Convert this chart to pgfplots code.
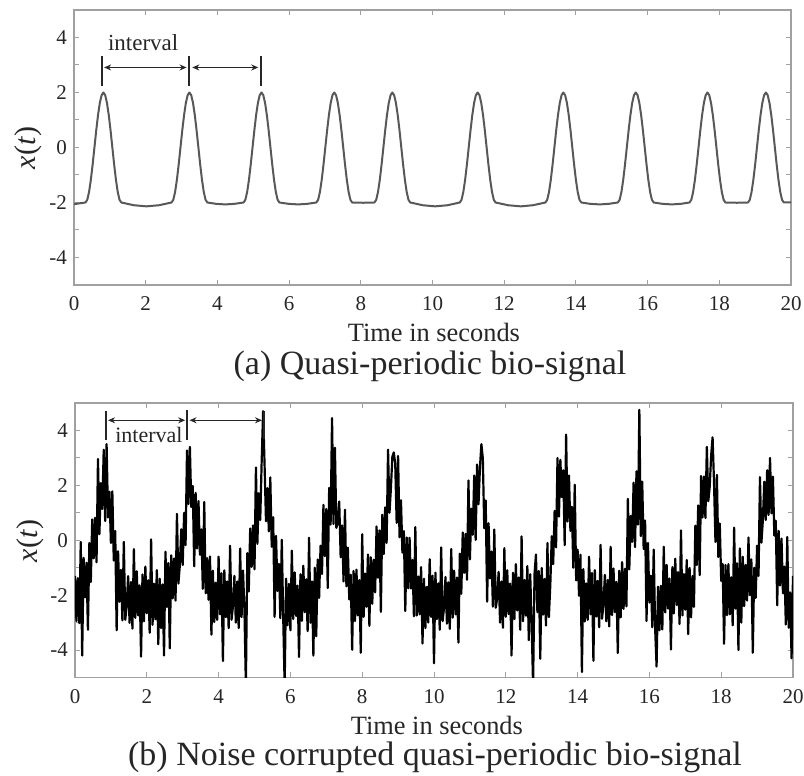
\documentclass[border=0pt]{standalone}
\usepackage{fontspec}
\setmainfont{Liberation Serif}
\usepackage{pgfplots}
\pgfplotsset{compat=1.18}
\usepackage{pgfplotstable}
\usetikzlibrary{arrows.meta}
\definecolor{framegray}{HTML}{A0A0A0}
\definecolor{sig}{HTML}{585858}
\definecolor{txt}{HTML}{262626}

\pgfplotstableread{
t y
0.00 -2.06
0.16 -2.03
0.32 -2.00
0.37 -1.902
0.42 -1.618
0.47 -1.176
0.52 -0.618
0.57 0
0.62 0.618
0.67 1.176
0.72 1.618
0.77 1.902
0.82 2
0.87 1.902
0.92 1.618
0.97 1.176
1.02 0.618
1.07 0
1.12 -0.618
1.17 -1.176
1.22 -1.618
1.27 -1.902
1.32 -2
1.67 -2.1
2.02 -2.14
2.37 -2.1
2.72 -2
2.77 -1.902
2.82 -1.618
2.87 -1.176
2.92 -0.618
2.97 0
3.02 0.618
3.07 1.176
3.12 1.618
3.17 1.902
3.22 2
3.27 1.902
3.32 1.618
3.37 1.176
3.42 0.618
3.47 0
3.52 -0.618
3.57 -1.176
3.62 -1.618
3.67 -1.902
3.72 -2
3.97 -2.05
4.22 -2.07
4.47 -2.05
4.73 -2
4.78 -1.902
4.83 -1.618
4.88 -1.176
4.93 -0.618
4.98 0
5.03 0.618
5.08 1.176
5.13 1.618
5.18 1.902
5.23 2
5.28 1.902
5.33 1.618
5.38 1.176
5.43 0.618
5.48 0
5.53 -0.618
5.58 -1.176
5.63 -1.618
5.68 -1.902
5.73 -2
5.99 -2.05
6.25 -2.07
6.50 -2.05
6.76 -2
6.81 -1.902
6.86 -1.618
6.91 -1.176
6.96 -0.618
7.01 0
7.06 0.618
7.11 1.176
7.16 1.618
7.21 1.902
7.26 2
7.31 1.902
7.36 1.618
7.41 1.176
7.46 0.618
7.51 0
7.56 -0.618
7.61 -1.176
7.66 -1.618
7.71 -1.902
7.76 -2
8.07 -2.01
8.38 -2
8.43 -1.902
8.48 -1.618
8.53 -1.176
8.58 -0.618
8.63 0
8.68 0.618
8.73 1.176
8.78 1.618
8.83 1.902
8.88 2
8.93 1.902
8.98 1.618
9.03 1.176
9.08 0.618
9.13 0
9.18 -0.618
9.23 -1.176
9.28 -1.618
9.33 -1.902
9.38 -2
9.73 -2.1
10.07 -2.14
10.42 -2.1
10.76 -2
10.81 -1.902
10.86 -1.618
10.91 -1.176
10.96 -0.618
11.01 0
11.06 0.618
11.11 1.176
11.16 1.618
11.21 1.902
11.26 2
11.31 1.902
11.36 1.618
11.41 1.176
11.46 0.618
11.51 0
11.56 -0.618
11.61 -1.176
11.66 -1.618
11.71 -1.902
11.76 -2
12.11 -2.1
12.46 -2.14
12.80 -2.1
13.15 -2
13.20 -1.902
13.25 -1.618
13.30 -1.176
13.35 -0.618
13.40 0
13.45 0.618
13.50 1.176
13.55 1.618
13.60 1.902
13.65 2
13.70 1.902
13.75 1.618
13.80 1.176
13.85 0.618
13.90 0
13.95 -0.618
14.00 -1.176
14.05 -1.618
14.10 -1.902
14.15 -2
14.40 -2.05
14.66 -2.07
14.91 -2.05
15.17 -2
15.22 -1.902
15.27 -1.618
15.32 -1.176
15.37 -0.618
15.42 0
15.47 0.618
15.52 1.176
15.57 1.618
15.62 1.902
15.67 2
15.72 1.902
15.77 1.618
15.82 1.176
15.87 0.618
15.92 0
15.97 -0.618
16.02 -1.176
16.07 -1.618
16.12 -1.902
16.17 -2
16.42 -2.05
16.67 -2.07
16.92 -2.05
17.17 -2
17.22 -1.902
17.27 -1.618
17.32 -1.176
17.37 -0.618
17.42 0
17.47 0.618
17.52 1.176
17.57 1.618
17.62 1.902
17.67 2
17.72 1.902
17.77 1.618
17.82 1.176
17.87 0.618
17.92 0
17.97 -0.618
18.02 -1.176
18.07 -1.618
18.12 -1.902
18.17 -2
18.49 -2.01
18.80 -2
18.85 -1.902
18.90 -1.618
18.95 -1.176
19.00 -0.618
19.05 0
19.10 0.618
19.15 1.176
19.20 1.618
19.25 1.902
19.30 2
19.35 1.902
19.40 1.618
19.45 1.176
19.50 0.618
19.55 0
19.60 -0.618
19.65 -1.176
19.70 -1.618
19.75 -1.902
19.80 -2
20.00 -2
}\clean

\pgfplotstableread{
t y
0.00 -1.30
0.04 -2.94
0.08 -1.38
0.12 -3.02
0.16 -0.06
0.20 -4.20
0.24 -0.64
0.28 -2.08
0.32 -0.82
0.36 -3.26
0.40 -0.10
0.44 -1.52
0.48 0.76
0.52 -0.66
0.56 0.82
0.60 -0.80
0.64 2.96
0.68 0.22
0.72 2.08
0.76 1.14
0.80 3.30
0.84 0.70
0.88 3.50
0.92 0.83
0.96 1.77
1.00 -0.10
1.04 1.78
1.08 -0.74
1.12 0.34
1.16 -3.28
1.20 -0.40
1.24 -2.24
1.28 -1.08
1.32 -2.92
1.36 -0.06
1.40 -2.90
1.44 -2.40
1.48 -1.31
1.52 -3.01
1.56 -1.52
1.60 -3.22
1.64 -0.32
1.68 -2.83
1.72 -1.13
1.76 -2.74
1.80 -1.64
1.84 -4.24
1.88 -1.25
1.92 -2.95
1.96 -0.96
2.00 -2.66
2.04 -1.46
2.08 -3.37
2.12 0.03
2.16 -3.08
2.20 -1.58
2.24 -2.88
2.28 -1.09
2.32 -3.79
2.36 -1.40
2.40 -3.20
2.44 -1.61
2.48 -4.20
2.52 -0.42
2.56 -2.43
2.60 -0.83
2.64 -3.94
2.68 -0.55
2.72 -2.12
2.76 -0.66
2.80 -2.20
2.84 0.96
2.88 -1.58
2.92 -0.92
2.96 0.40
3.00 -0.90
3.04 1.00
3.08 -0.18
3.12 3.27
3.16 1.32
3.20 3.40
3.24 1.21
3.28 1.98
3.32 -0.95
3.36 1.73
3.40 -0.30
3.44 1.43
3.48 -0.53
3.52 0.40
3.56 -1.77
3.60 1.39
3.64 -1.93
3.68 -0.65
3.72 -2.17
3.76 -0.59
3.80 -3.44
3.84 -1.11
3.88 -2.98
3.92 -1.55
3.96 -2.90
4.00 -0.60
4.04 -2.70
4.08 -1.20
4.12 -4.40
4.16 -1.10
4.20 -2.80
4.24 -1.50
4.28 -3.20
4.32 -0.20
4.36 -2.90
4.40 -2.40
4.44 -1.30
4.48 -3.00
4.52 -1.50
4.56 -3.20
4.60 -0.30
4.64 -2.80
4.68 -1.10
4.72 -2.55
4.76 -5.30
4.80 -0.47
4.84 -1.87
4.88 0.43
4.92 -0.97
4.96 0.54
5.00 -1.06
5.04 2.65
5.08 -0.13
5.12 1.71
5.16 0.74
5.20 2.88
5.24 4.70
5.28 2.78
5.32 0.69
5.36 1.90
5.40 0.32
5.44 2.29
5.48 -0.24
5.52 0.84
5.56 -2.79
5.60 0.16
5.64 -1.85
5.68 -0.86
5.72 -2.84
5.76 0.02
5.80 -2.82
5.84 -5.30
5.88 -1.40
5.92 -3.10
5.96 -1.59
6.00 -3.28
6.04 -0.38
6.08 -2.87
6.12 -1.17
6.16 -2.76
6.20 -1.65
6.24 -4.25
6.28 -1.24
6.32 -2.94
6.36 -0.93
6.40 -2.62
6.44 -1.42
6.48 -3.31
6.52 0.09
6.56 -3.01
6.60 -1.50
6.64 -4.20
6.68 -1.00
6.72 -3.50
6.76 -0.70
6.80 -2.10
6.84 -0.20
6.88 -1.23
6.92 1.29
6.96 -0.58
7.00 1.14
7.04 -1.74
7.08 1.91
7.12 0.57
7.16 4.45
7.20 0.59
7.24 3.37
7.28 0.45
7.32 0.65
7.36 1.41
7.40 -0.62
7.44 0.54
7.48 -1.50
7.52 1.11
7.56 -1.68
7.60 -0.27
7.64 -2.16
7.68 -1.26
7.72 -3.99
7.76 -1.12
7.80 -2.94
7.84 -1.07
7.88 -2.74
7.92 -1.45
7.96 -4.10
8.00 0.22
8.04 -2.79
8.08 -1.21
8.12 -2.42
8.16 -0.52
8.20 -3.12
8.24 -0.62
8.28 -2.31
8.32 -0.71
8.36 -1.90
8.40 0.50
8.44 -1.37
8.48 0.36
8.52 -2.61
8.56 0.93
8.60 -0.50
8.64 1.20
8.68 -0.10
8.72 3.30
8.76 1.00
8.80 1.90
8.84 3.04
8.88 3.20
8.92 2.79
8.96 0.63
9.00 3.07
9.04 0.11
9.08 1.46
9.12 -0.45
9.16 0.33
9.20 -2.58
9.24 0.10
9.28 -1.75
9.32 0.09
9.36 -1.76
9.40 -0.72
9.44 -2.77
9.48 0.48
9.52 -2.74
9.56 -1.32
9.60 -2.70
9.64 -0.98
9.68 -3.76
9.72 -1.40
9.76 -3.20
9.80 -1.70
9.84 -3.00
9.88 -0.69
9.92 -2.79
9.96 -1.29
10.00 -4.48
10.04 -1.18
10.08 -2.87
10.12 -1.57
10.16 -3.26
10.20 -0.26
10.24 -2.95
10.28 -2.45
10.32 -1.34
10.36 -3.04
10.40 -1.53
10.44 -3.23
10.48 -0.32
10.52 -2.82
10.56 -1.11
10.60 -2.70
10.64 -1.36
10.68 -3.73
10.72 -0.49
10.76 -1.95
10.80 0.28
10.84 -1.19
10.88 0.23
10.92 -1.44
10.96 2.18
11.00 -0.70
11.04 1.15
11.08 0.20
11.12 2.36
11.16 0.01
11.20 2.76
11.24 1.31
11.28 2.65
11.32 3.50
11.36 2.98
11.40 0.44
11.44 1.45
11.48 -2.24
11.52 0.62
11.56 -1.39
11.60 -0.41
11.64 -2.42
11.68 0.39
11.72 -2.46
11.76 -2.11
11.80 -1.15
11.84 -3.00
11.88 -1.50
11.92 -3.19
11.96 -0.29
12.00 -2.79
12.04 -1.09
12.08 -2.69
12.12 -1.58
12.16 -4.20
12.20 -1.18
12.24 -2.87
12.28 -0.87
12.32 -2.56
12.36 -1.36
12.40 -3.26
12.44 0.14
12.48 -2.95
12.52 -1.45
12.56 -2.75
12.60 -0.94
12.64 -3.64
12.68 -1.24
12.72 -3.03
12.76 -5.30
12.80 -1.23
12.84 -0.52
12.88 -2.62
12.92 -1.12
12.96 -4.32
13.00 -1.01
13.04 -2.71
13.08 -1.41
13.12 -3.11
13.16 -0.10
13.20 -2.80
13.24 -1.62
13.28 0.15
13.32 -0.87
13.36 1.07
13.40 -0.26
13.44 3.00
13.48 0.86
13.52 2.93
13.56 1.57
13.60 2.55
13.64 -0.18
13.68 3.85
13.72 0.68
13.76 2.36
13.80 0.34
13.84 1.22
13.88 -1.00
13.92 2.02
13.96 -1.46
14.00 -0.34
14.04 -2.02
14.08 -0.53
14.12 -4.80
14.16 -1.05
14.20 -2.96
14.24 -1.57
14.28 -2.90
14.32 -0.60
14.36 -2.70
14.40 -1.19
14.44 -4.39
14.48 -1.09
14.52 -2.78
14.56 -1.48
14.60 -3.17
14.64 -0.17
14.68 -2.86
14.72 -2.36
14.76 -1.26
14.80 -2.95
14.84 -1.45
14.88 -3.14
14.92 -0.24
14.96 -2.73
15.00 -1.03
15.04 -2.62
15.08 -1.52
15.12 -4.11
15.16 -1.11
15.20 -2.81
15.24 -0.80
15.28 -2.50
15.32 -1.04
15.36 -2.41
15.40 1.51
15.44 -1.06
15.48 0.88
15.52 -0.06
15.56 2.10
15.60 -0.25
15.64 2.51
15.68 0.57
15.72 4.75
15.76 0.15
15.80 2.13
15.84 -0.32
15.88 0.72
15.92 -2.94
15.96 -0.10
16.00 -2.27
16.04 -1.29
16.08 -3.17
16.12 -0.34
16.16 -3.22
16.20 -4.60
16.24 -1.69
16.28 -3.28
16.32 -1.66
16.36 -3.25
16.40 -0.24
16.44 -2.63
16.48 -0.90
16.52 -2.49
16.56 -1.39
16.60 -3.98
16.64 -0.98
16.68 -2.67
16.72 -0.67
16.76 -2.36
16.80 -1.16
16.84 -3.05
16.88 0.36
16.92 -2.74
16.96 -1.23
17.00 -2.53
17.04 -0.72
17.08 -3.42
17.12 -1.01
17.16 -2.81
17.20 -1.30
17.24 -2.43
17.28 0.53
17.32 -0.90
17.36 1.27
17.40 -1.27
17.44 2.34
17.48 0.83
17.52 2.32
17.56 0.81
17.60 3.40
17.64 1.42
17.68 1.95
17.72 3.09
17.76 3.75
17.80 2.10
17.84 -0.06
17.88 2.38
17.92 -0.61
17.96 0.61
18.00 -1.48
18.04 -0.86
18.08 -3.77
18.12 -0.90
18.16 -2.73
18.20 -0.87
18.24 -2.70
18.28 -1.35
18.32 -3.10
18.36 0.46
18.40 -2.49
18.44 -0.84
18.48 -4.00
18.52 -0.30
18.56 -3.00
18.60 -0.60
18.64 -2.40
18.68 -0.90
18.72 -2.20
18.76 0.10
18.80 -2.00
18.84 -0.70
18.88 -4.10
18.92 -1.00
18.96 -2.10
19.00 -0.20
19.04 -1.30
19.08 2.30
19.12 -0.09
19.16 0.72
19.20 2.13
19.24 0.74
19.28 2.55
19.32 0.92
19.36 3.00
19.40 0.98
19.44 2.32
19.48 0.17
19.52 0.71
19.56 -2.37
19.60 0.34
19.64 -1.65
19.68 0.06
19.72 -1.93
19.76 -0.96
19.80 -3.07
19.84 0.12
19.88 -3.19
19.92 -1.90
19.96 -4.30
20.00 -1.30
}\noisy

\pgfplotsset{sigaxis/.style={
  scale only axis,
  anchor=south west,
  xmin=0, xmax=20, ymin=-5, ymax=5,
  xtick={0,2,...,20},
  ytick={-4,-2,0,2,4},
  minor ytick={-3,-1,1,3},
  tick align=inside,
  major tick length=2.5pt,
  minor tick length=2.5pt,
  axis line style={framegray, line width=0.6pt},
  tick style={framegray, line width=0.5pt},
  /pgf/number format/assume math mode=true,
  tick label style={font=\fontsize{10.5}{12}\selectfont, text=txt},
  xticklabel style={yshift=-2.4pt},
  xlabel={Time in seconds},
  ylabel={\textit{x}(\textit{t})},
  label style={text=txt},
  xlabel style={font=\fontsize{13.2}{15}\selectfont, anchor=base, inner sep=0pt},
  ylabel style={font=\fontsize{15}{17}\selectfont, anchor=center},
}}

\begin{document}
\begin{tikzpicture}
\path[use as bounding box] (0pt,0pt) rectangle (402pt,388pt);

\begin{axis}[sigaxis,
  at={(37pt,245.5pt)}, width=358.5pt, height=137.5pt,
  xlabel style={at={(axis description cs:0.502,-0.207)}},
  ylabel style={at={(axis description cs:-0.064,0.498)}},
]
\addplot[sig, line width=1pt, line join=round] table[x=t, y=y] {\clean};
\draw[black!85, line width=1pt] (axis cs:0.77,2.24) -- (axis cs:0.77,3.31);
\draw[black!85, line width=1pt] (axis cs:3.22,2.24) -- (axis cs:3.22,3.31);
\draw[black!85, line width=1pt] (axis cs:5.22,2.24) -- (axis cs:5.22,3.31);
\draw[black!85, line width=0.6pt, {Stealth[length=3.5pt,width=3pt]}-{Stealth[length=3.5pt,width=3pt]}] (axis cs:0.84,2.91) -- (axis cs:3.14,2.91);
\draw[black!85, line width=0.6pt, {Stealth[length=3.5pt,width=3pt]}-{Stealth[length=3.5pt,width=3pt]}] (axis cs:3.30,2.91) -- (axis cs:5.14,2.91);
\node[anchor=base, text=txt, font=\fontsize{11.5}{13}\selectfont] at (axis cs:1.93,3.53) {interval};
\end{axis}

\begin{axis}[sigaxis,
  at={(37.5pt,49.25pt)}, width=359pt, height=137.25pt,
  xlabel style={at={(axis description cs:0.504,-0.206)}},
  ylabel style={at={(axis description cs:-0.0627,0.497)}},
]
\addplot[black, line width=1.1pt, line join=round] table[x=t, y=y] {\noisy};
\draw[black!85, line width=0.9pt] (axis cs:0.86,3.66) -- (axis cs:0.86,4.72);
\draw[black!85, line width=0.9pt] (axis cs:3.13,3.66) -- (axis cs:3.13,4.75);
\draw[black!85, line width=0.9pt] (axis cs:5.27,3.70) -- (axis cs:5.27,4.72);
\draw[black!85, line width=0.6pt, {Stealth[length=3.5pt,width=3pt]}-{Stealth[length=3.5pt,width=3pt]}] (axis cs:0.92,4.37) -- (axis cs:3.07,4.37);
\draw[black!85, line width=0.6pt, {Stealth[length=3.5pt,width=3pt]}-{Stealth[length=3.5pt,width=3pt]}] (axis cs:3.19,4.37) -- (axis cs:5.21,4.37);
\node[anchor=base, text=txt, font=\fontsize{11}{13}\selectfont] at (axis cs:2.06,3.56) {interval};
\end{axis}

\node[anchor=base, inner sep=0pt, text=txt, font=\fontsize{17}{20}\selectfont] at (215pt,200.5pt) {(a) Quasi-periodic bio-signal};
\node[anchor=base, inner sep=0pt, text=txt, font=\fontsize{17}{20}\selectfont] at (217.5pt,5pt) {(b) Noise corrupted quasi-periodic bio-signal};
\end{tikzpicture}
\end{document}
